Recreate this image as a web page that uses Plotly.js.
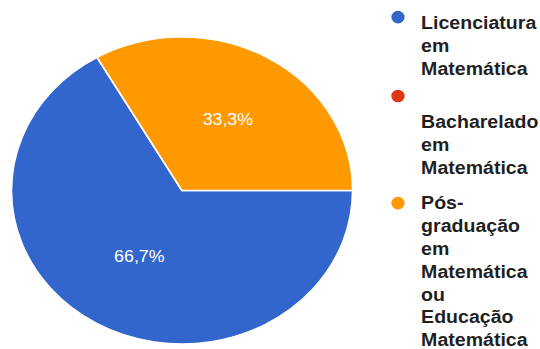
<!DOCTYPE html>
<html>
<head>
<meta charset="utf-8">
<script src="https://cdn.plot.ly/plotly-3.0.1.min.js"></script>
<style>
html, body { margin: 0; padding: 0; background: #fff; overflow: hidden; }
#chart { width: 486px; height: 349px; transform: scaleX(1.1111); transform-origin: 0 0; }
</style>
</head>
<body>
<div id="chart"></div>
<script>
const categories = ["Licenciatura em Matemática", "Bacharelado em Matemática", "Pós-graduação em Matemática ou Educação Matemática"];
const values = [66.7, 0, 33.3];
const legendLabels = [
  "Licenciatura<br>em<br>Matemática",
  "Bacharelado<br>em<br>Matemática",
  "Pós-<br>graduação<br>em<br>Matemática<br>ou<br>Educação<br>Matemática"
];
const colors = ["#3366CC", "#DC3912", "#FF9900"];

// legend layout (paper fractions)
const legendMarkerX = 0.737;
const legendMarkerY = [0.951, 0.725, 0.418];
const legendTextX = 0.775;
const legendTextY = [0.969, 0.684, 0.4536];

const traces = [{
  type: "pie",
  labels: categories,
  values: values,
  sort: false,
  direction: "clockwise",
  rotation: 90,
  marker: { colors: colors, line: { color: "#ffffff", width: 1.5 } },
  textinfo: "percent",
  textposition: "inside",
  insidetextorientation: "horizontal",
  textfont: { family: "Liberation Sans, Arial, sans-serif", size: 16, color: "#ffffff" },
  hoverinfo: "label+percent",
  showlegend: false,
  domain: { x: [0.0212, 0.653], y: [0.0143, 0.894] }
}];

const shapes = colors.map(function (c, i) {
  return {
    type: "circle", xref: "paper", yref: "paper",
    xsizemode: "pixel", ysizemode: "pixel",
    xanchor: legendMarkerX, yanchor: legendMarkerY[i],
    x0: -6, x1: 6, y0: -6.3, y1: 6.3,
    fillcolor: c, line: { width: 0 }
  };
});

const annotations = legendLabels.map(function (t, i) {
  return {
    xref: "paper", yref: "paper",
    x: legendTextX, y: legendTextY[i],
    xanchor: "left", yanchor: "top", align: "left",
    showarrow: false, text: t,
    font: { family: "Liberation Sans, Arial, sans-serif", size: 17.6, color: "#1f1f1f", weight: "bold" }
  };
});

const layout = {
  width: 486, height: 349,
  margin: { l: 0, r: 0, t: 0, b: 0 },
  paper_bgcolor: "#ffffff",
  separators: ",.",
  showlegend: false,
  shapes: shapes,
  annotations: annotations
};

Plotly.newPlot("chart", traces, layout, { displayModeBar: false, responsive: false, staticPlot: true });
</script>
</body>
</html>
